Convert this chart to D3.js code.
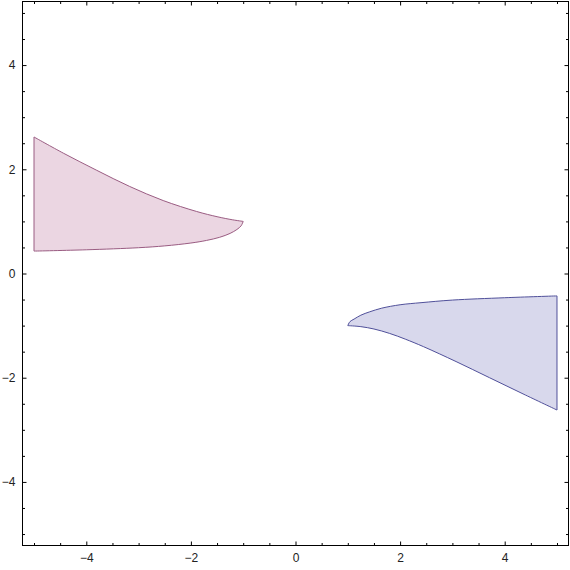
<!DOCTYPE html>
<html>
  <head>
    <style>
      body { margin: 0; background: #fff; }
      .tick text {
        font-family: 'Liberation Sans', Arial, sans-serif;
        font-size: 12px;
        fill: #222;
      }
    </style>
  </head>
  <body>
    <script src="https://d3js.org/d3.v7.min.js"></script>
    <script>
      var width = 570;
      var height = 570;

      // values
      var majorTicks = [-4, -2, 0, 2, 4];
      var minorTicks = [-5, -4.5, -3.5, -3, -2.5, -1.5, -1, -0.5, 0.5, 1, 1.5, 2.5, 3, 3.5, 4.5, 5];

      var pinkTopX = [-5, -4.44, -3.8, -3.17, -2.53, -1.89, -1.5, -1.2, -1];
      var pinkTopY = [2.62, 2.31, 1.98, 1.67, 1.4, 1.19, 1.09, 1.03, 1.0];
      var pinkBottomX = [-5, -4, -3, -2.5, -2, -1.7, -1.45, -1.25, -1.12, -1.04, -1];
      var pinkBottomY = [0.43, 0.455, 0.495, 0.53, 0.585, 0.635, 0.695, 0.77, 0.845, 0.915, 1.0];

      var blueTopX = [1, 1.04, 1.12, 1.25, 1.42, 1.65, 2, 2.4, 3, 4, 5];
      var blueTopY = [-1, -0.925, -0.875, -0.8, -0.735, -0.665, -0.6, -0.56, -0.51, -0.465, -0.43];
      var blueBottomX = [1, 1.25, 1.5, 1.8, 2.1, 2.45, 3.07, 3.71, 4.35, 5];
      var blueBottomY = [-1, -1.02, -1.065, -1.15, -1.26, -1.405, -1.69, -2.0, -2.31, -2.62];

      var frameL = 22.5, frameR = 568.5, frameT = 1.5, frameB = 545.5;

      var x = d3.scaleLinear().domain([-5.22, 5.22]).range([frameL, frameR]);
      var y = d3.scaleLinear().domain([-5.22, 5.22]).range([frameB, frameT]);

      var svg = d3.select("body")
        .append("svg")
        .attr("width", width)
        .attr("height", height);

      var line = d3.line()
        .x(function(d) { return x(d[0]); })
        .y(function(d) { return y(d[1]); })
        .curve(d3.curveCatmullRom.alpha(0.5));

      function regionPath(tx, ty, bx, by) {
        var topPts = tx.map(function(v, i) { return [v, ty[i]]; });
        var botPts = bx.map(function(v, i) { return [v, by[i]]; });
        // walk top left->right, then bottom right->left
        var a = line(topPts);
        var b = line(botPts.slice().reverse());
        return a + "L" + b.slice(1) + "Z";
      }

      var regions = [
        { d: regionPath(pinkTopX, pinkTopY, pinkBottomX, pinkBottomY), fill: "#ebd6e2", stroke: "#9a5c82" },
        { d: regionPath(blueTopX, blueTopY, blueBottomX, blueBottomY), fill: "#d8d8ec", stroke: "#50509a" }
      ];

      svg.selectAll("path.region")
        .data(regions)
        .enter().append("path")
        .attr("class", "region")
        .attr("d", function(d) { return d.d; })
        .attr("fill", function(d) { return d.fill; })
        .attr("stroke", function(d) { return d.stroke; })
        .attr("stroke-width", 1)
        .attr("stroke-linejoin", "round");

      // frame
      svg.append("rect")
        .attr("x", frameL).attr("y", frameT)
        .attr("width", frameR - frameL).attr("height", frameB - frameT)
        .attr("fill", "none")
        .attr("stroke", "#000")
        .attr("stroke-width", 1);

      function styleAxis(g) {
        g.select(".domain").remove();
        g.selectAll(".tick line").attr("stroke", "#000");
      }

      function fmt(d) { return d < 0 ? "\u2212" + (-d) : d; }

      // labelled axes (bottom / left)
      svg.append("g")
        .attr("transform", "translate(0," + frameB + ")")
        .call(d3.axisBottom(x).tickValues(majorTicks).tickSize(-4).tickPadding(8).tickFormat(fmt))
        .call(styleAxis);
      svg.append("g")
        .attr("transform", "translate(0," + frameB + ")")
        .call(d3.axisBottom(x).tickValues(minorTicks).tickSize(-2.5).tickFormat(""))
        .call(styleAxis);

      svg.append("g")
        .attr("transform", "translate(" + frameL + ",0)")
        .call(d3.axisLeft(y).tickValues(majorTicks).tickSize(-4).tickPadding(7).tickFormat(fmt))
        .call(styleAxis);
      svg.append("g")
        .attr("transform", "translate(" + frameL + ",0)")
        .call(d3.axisLeft(y).tickValues(minorTicks).tickSize(-2.5).tickFormat(""))
        .call(styleAxis);

      // unlabelled ticks on top / right
      svg.append("g")
        .attr("transform", "translate(0," + frameT + ")")
        .call(d3.axisTop(x).tickValues(majorTicks).tickSize(-4).tickFormat(""))
        .call(styleAxis);
      svg.append("g")
        .attr("transform", "translate(0," + frameT + ")")
        .call(d3.axisTop(x).tickValues(minorTicks).tickSize(-2.5).tickFormat(""))
        .call(styleAxis);
      svg.append("g")
        .attr("transform", "translate(" + frameR + ",0)")
        .call(d3.axisRight(y).tickValues(majorTicks).tickSize(-4).tickFormat(""))
        .call(styleAxis);
      svg.append("g")
        .attr("transform", "translate(" + frameR + ",0)")
        .call(d3.axisRight(y).tickValues(minorTicks).tickSize(-2.5).tickFormat(""))
        .call(styleAxis);
    </script>
  </body>
</html>
